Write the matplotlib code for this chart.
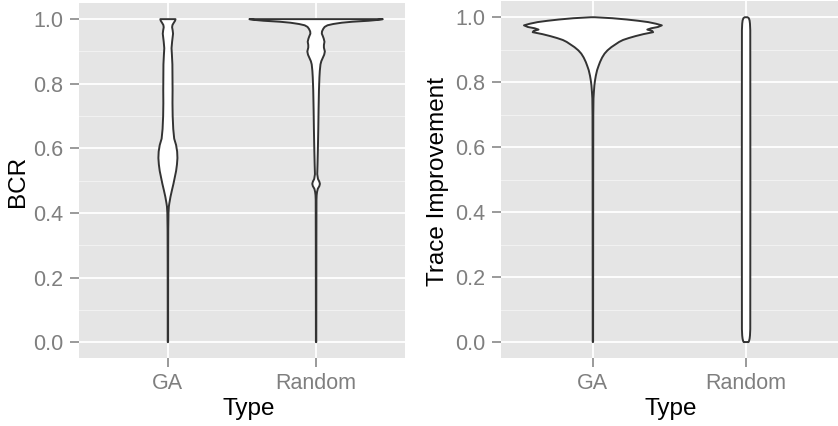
import numpy as np
import matplotlib
matplotlib.use("Agg")
import matplotlib.pyplot as plt
from matplotlib.ticker import MultipleLocator, FormatStrFormatter

plt.rcParams['font.family'] = ['Liberation Sans', 'DejaVu Sans']

categories = ['GA', 'Random']

# violin profiles: y level and relative density (half-width)
bcr_ga_y = [1.0, 0.995, 0.988, 0.982, 0.975, 0.965, 0.955, 0.945, 0.93, 0.91, 0.89,
            0.86, 0.82, 0.78, 0.74, 0.70, 0.66, 0.63, 0.61, 0.59, 0.57, 0.55, 0.53,
            0.51, 0.49, 0.47, 0.45, 0.43, 0.42, 0.40, 0.35, 0.25, 0.10, 0.0]
bcr_ga_d = [8.0, 7.5, 6.0, 4.8, 4.4, 5.0, 5.4, 5.0, 4.4, 3.8, 4.2,
            4.7, 4.8, 4.9, 4.8, 5.0, 5.6, 6.6, 8.6, 9.7, 10.0, 9.5, 8.6,
            7.2, 5.8, 4.2, 2.7, 1.5, 1.0, 0.6, 0.35, 0.25, 0.2, 0.2]

bcr_rand_y = [1.0, 0.998, 0.995, 0.992, 0.989, 0.985, 0.981, 0.976, 0.97, 0.962,
              0.955, 0.948, 0.94, 0.93, 0.92, 0.912, 0.90, 0.89, 0.88, 0.87, 0.86,
              0.84, 0.82, 0.78, 0.72, 0.66, 0.60, 0.55, 0.52, 0.505, 0.497, 0.49,
              0.483, 0.475, 0.465, 0.455, 0.44, 0.30, 0.0]
bcr_rand_d = [70, 66, 55, 38, 27, 18, 12, 9, 7.5, 6.2,
              6.0, 7.0, 8.0, 8.8, 8.2, 8.2, 9.2, 8.5, 7.0, 5.5, 4.6,
              3.9, 3.5, 3.0, 2.6, 2.3, 1.9, 1.5, 1.2, 2.0, 3.4, 4.0,
              3.4, 1.8, 1.0, 0.6, 0.4, 0.3, 0.2]

tr_ga_y = [1.0, 0.997, 0.993, 0.989, 0.985, 0.98, 0.975, 0.97, 0.966, 0.962, 0.958,
           0.954, 0.948, 0.942, 0.936, 0.93, 0.924, 0.916, 0.908, 0.898, 0.888,
           0.876, 0.862, 0.85, 0.837, 0.82, 0.806, 0.79, 0.77, 0.75, 0.70, 0.50, 0.0]
tr_ga_d = [2, 20, 35, 47, 57, 65, 71, 67, 60, 56, 61,
           62, 52, 44, 37, 31, 27, 23, 19, 15, 12,
           9.5, 7.3, 5.8, 4.3, 3.0, 2.2, 1.5, 1.0, 0.6, 0.4, 0.3, 0.2]

tr_rand_y = [1.0, 0.997, 0.99, 0.98, 0.96, 0.5, 0.04, 0.02, 0.01, 0.003, 0.0]
tr_rand_d = [1.5, 2.8, 3.6, 4.0, 4.3, 4.4, 4.3, 4.0, 3.6, 3.0, 2.5]

panels = [
    ('BCR', [(bcr_ga_y, bcr_ga_d), (bcr_rand_y, bcr_rand_d)]),
    ('Trace Improvement', [(tr_ga_y, tr_ga_d), (tr_rand_y, tr_rand_d)]),
]

W, H = 838, 426
fig = plt.figure(figsize=(W / 100, H / 100), dpi=100)
rects = [[79 / W, (H - 358.3) / H, 326 / W, 355.3 / H],
         [501 / W, (H - 358.3) / H, 337 / W, 357.3 / H]]
ylab_x = [18, 438]
xlab_x = [249, 671]


def draw_violin(ax, pos, y, d, scale):
    y = np.asarray(y, float)
    half = np.asarray(d, float) * scale
    xs = np.concatenate([pos - half, (pos + half)[::-1]])
    ys = np.concatenate([y, y[::-1]])
    ax.fill(xs, ys, facecolor='white', edgecolor='#333333', linewidth=1.4,
            joinstyle='round', zorder=3)


for i, (ylabel, violins) in enumerate(panels):
    ax = fig.add_axes(rects[i])
    ax.set_facecolor('#E5E5E5')
    for s in ax.spines.values():
        s.set_visible(False)

    dmax = max(max(d) for _, d in violins)
    for k, (y, d) in enumerate(violins):
        draw_violin(ax, k + 1, y, d, 0.45 / dmax)

    ax.set_xlim(0.4, 2.6)
    ax.set_ylim(-0.05, 1.05)
    ax.set_xticks([1, 2])
    ax.set_xticklabels(categories)
    ax.yaxis.set_major_locator(MultipleLocator(0.2))
    ax.yaxis.set_minor_locator(MultipleLocator(0.1))
    ax.yaxis.set_major_formatter(FormatStrFormatter('%.1f'))

    ax.grid(which='major', color='white', linewidth=1.3, zorder=1)
    ax.grid(which='minor', axis='y', color='#F2F2F2', linewidth=0.7, zorder=1)
    ax.set_axisbelow(True)

    ax.tick_params(which='major', length=6.5, width=1.1, color='#7F7F7F',
                   labelcolor='#7F7F7F', labelsize=15.5)
    ax.tick_params(axis='y', pad=5)
    ax.tick_params(axis='x', pad=4)
    ax.tick_params(which='minor', length=0)

    fig.text(xlab_x[i] / W, 1 - 415 / H, 'Type', ha='center', va='baseline',
             fontsize=17.5)
    fig.text(ylab_x[i] / W, 1 - 181 / H, ylabel, rotation=90, ha='center',
             va='center', fontsize=17.5)

fig.savefig('out.png', dpi=100)
